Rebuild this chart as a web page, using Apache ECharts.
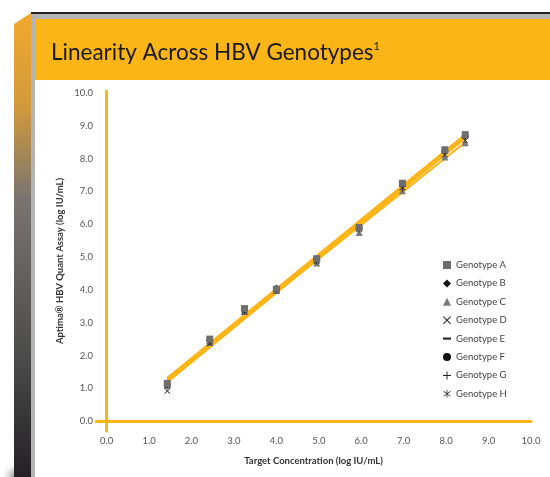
<!DOCTYPE html>
<html>
<head>
<meta charset="utf-8">
<script src="https://cdn.jsdelivr.net/npm/echarts@6/dist/echarts.min.js"></script>
<style>
  html, body { margin: 0; padding: 0; background: #fff; }
  #main { width: 550px; height: 477px; }
</style>
</head>
<body>
<div id="main"></div>
<script>
// target concentrations (log IU/mL)
var xVals = [1.43, 2.43, 3.25, 4.0, 4.95, 5.95, 6.97, 7.97, 8.45];
// measured per genotype
var genoNames = ['Genotype A', 'Genotype B', 'Genotype C', 'Genotype D', 'Genotype E', 'Genotype F', 'Genotype G', 'Genotype H'];
var yA = [1.15, 2.50, 3.43, 4.02, 4.95, 5.90, 7.25, 8.27, 8.73];
var yB = [1.12, 2.47, 3.40, 4.05, 4.93, 5.88, 7.22, 8.25, 8.70];
var yC = [1.10, 2.40, 3.35, 3.98, 4.82, 5.75, 7.02, 8.05, 8.48];
var yD = [0.92, 2.37, 3.32, 3.97, 4.88, 5.85, 7.12, 8.12, 8.55];
var yE = [1.13, 2.45, 3.38, 4.00, 4.92, 5.87, 7.18, 8.20, 8.65];
var yF = [1.14, 2.48, 3.40, 4.05, 4.95, 5.90, 7.23, 8.25, 8.72];
var yG = [1.10, 2.45, 3.37, 4.00, 4.90, 5.88, 7.15, 8.22, 8.68];
var yH = [1.08, 2.42, 3.36, 3.98, 4.88, 5.85, 7.10, 8.20, 8.68];
var tickVals = [0, 1, 2, 3, 4, 5, 6, 7, 8, 9, 10];

var allY = [yA, yB, yC, yD, yE, yF, yG, yH];
var symbols = [
  'rect',
  'diamond',
  'triangle',
  'path://M1,0L5,4L9,0L10,1L6,5L10,9L9,10L5,6L1,10L0,9L4,5L0,1Z',
  'path://M0,0H10V2.6H0Z',
  'circle',
  'path://M4.4,0H5.6V4.4H10V5.6H5.6V10H4.4V5.6H0V4.4H4.4Z',
  'path://M1,1.5L5,4.3L9,1.5L9.6,2.3L5.7,5L9.6,7.7L9,8.5L5,5.7L1,8.5L0.4,7.7L4.3,5L0.4,2.3Z M4.5,0H5.5V10H4.5Z'
];
var symSizes = [7, 7, 7, 6, 6, 5, 7, 7];
var symColors = ['#6e6e6e', '#111', '#7a7a7a', '#333', '#222', '#111', '#222', '#333'];
var symZ = [5, 3, 3, 3, 3, 3, 4, 4];
var orange = '#fbb516';

// least squares fit for each genotype
function fit(ys) {
  var n = xVals.length, sx = 0, sy = 0, sxx = 0, sxy = 0;
  for (var i = 0; i < n; i++) {
    sx += xVals[i]; sy += ys[i]; sxx += xVals[i] * xVals[i]; sxy += xVals[i] * ys[i];
  }
  var b = (n * sxy - sx * sy) / (n * sxx - sx * sx);
  var a = (sy - b * sx) / n;
  var x0 = xVals[0], x1 = xVals[n - 1];
  return [[x0, a + b * x0], [x1, a + b * x1]];
}

var series = [];
allY.forEach(function (ys, k) {
  series.push({
    name: 'fit' + k,
    type: 'line',
    data: fit(ys),
    symbol: 'none',
    silent: true,
    z: 2,
    lineStyle: { color: orange, width: 2 }
  });
});
allY.forEach(function (ys, k) {
  series.push({
    name: genoNames[k],
    type: 'scatter',
    data: xVals.map(function (x, i) { return [x, ys[i]]; }),
    symbol: symbols[k],
    symbolSize: symSizes[k],
    symbolKeepAspect: true,
    z: symZ[k],
    itemStyle: { color: symColors[k], opacity: 1 }
  });
});

var chart = echarts.init(document.getElementById('main'));
chart.setOption({
  animation: false,
  backgroundColor: '#fff',
  textStyle: { fontFamily: 'Lato' },
  graphic: [
    { type: 'rect', shape: { x: 31, y: 12, width: 519, height: 2 }, style: { fill: '#222' } },
    { type: 'rect', shape: { x: 31, y: 14, width: 519, height: 5 }, style: { fill: '#b4b4b4' } },
    { type: 'rect', shape: { x: 31, y: 14, width: 4, height: 463 }, style: { fill: '#b4b4b4' } },
    { type: 'rect', shape: { x: 35, y: 19, width: 515, height: 61 }, style: { fill: orange } },
    {
      type: 'rect', shape: { x: 0, y: 425, width: 16, height: 52 },
      style: { fill: new echarts.graphic.RadialGradient(1, 1, 1, [
        { offset: 0, color: '#7a7a7a' }, { offset: 1, color: 'rgba(255,255,255,0)' }]) }
    },
    {
      type: 'polygon', shape: { points: [[14, 24], [31, 13], [31, 477], [14, 477]] },
      style: { fill: new echarts.graphic.LinearGradient(0, 0, 0, 1, [
        { offset: 0, color: '#f0a92c' },
        { offset: 0.2, color: '#d29a3c' },
        { offset: 0.4, color: '#7a7470' },
        { offset: 0.75, color: '#4a4a4a' },
        { offset: 1, color: '#232123' }]) }
    }
  ],
  title: {
    text: 'Linearity Across HBV Genotypes{sup|1}',
    left: 46, top: 36,
    textStyle: {
      fontFamily: 'Lato', fontSize: 22.5, fontWeight: 'normal', color: '#1a1a1a',
      rich: { sup: { fontSize: 11, verticalAlign: 'top', padding: [0, 0, 10, 0], color: '#1a1a1a', fontFamily: 'Lato' } }
    }
  },
  legend: {
    data: genoNames,
    orient: 'vertical',
    left: 438, top: 255,
    itemWidth: 8, itemHeight: 8, itemGap: 8.4,
    textStyle: { fontSize: 9.5, color: '#444', fontFamily: 'Lato' },
    selectedMode: false
  },
  grid: { left: 96, right: 19, top: 91, bottom: 46, outerBoundsMode: 'none', containLabel: false },
  xAxis: {
    type: 'value', min: -0.25, max: 10,
    name: 'Target Concentration (log IU/mL)',
    nameLocation: 'middle', nameGap: 25, nameMoveOverlap: false,
    nameTextStyle: { fontSize: 9.5, fontWeight: 'bold', color: '#333' },
    axisLine: { onZero: true, lineStyle: { color: orange, width: 3 } },
    axisTick: { show: false },
    splitLine: { show: false },
    axisLabel: {
      customValues: tickVals, margin: 5, fontSize: 9.5, color: '#555',
      formatter: function (v) { return v.toFixed(1); }
    }
  },
  yAxis: {
    type: 'value', min: -0.3, max: 10.06,
    name: 'Aptima® HBV Quant Assay (log IU/mL)',
    nameLocation: 'middle', nameGap: 31, nameMoveOverlap: false,
    nameTextStyle: { fontSize: 9.5, fontWeight: 'bold', color: '#333' },
    axisLine: { onZero: true, lineStyle: { color: orange, width: 3 } },
    axisTick: { show: false },
    splitLine: { show: false },
    axisLabel: {
      customValues: tickVals, margin: 3, fontSize: 9.5, color: '#555',
      formatter: function (v) { return v.toFixed(1); }
    }
  },
  series: series
});
</script>
</body>
</html>
